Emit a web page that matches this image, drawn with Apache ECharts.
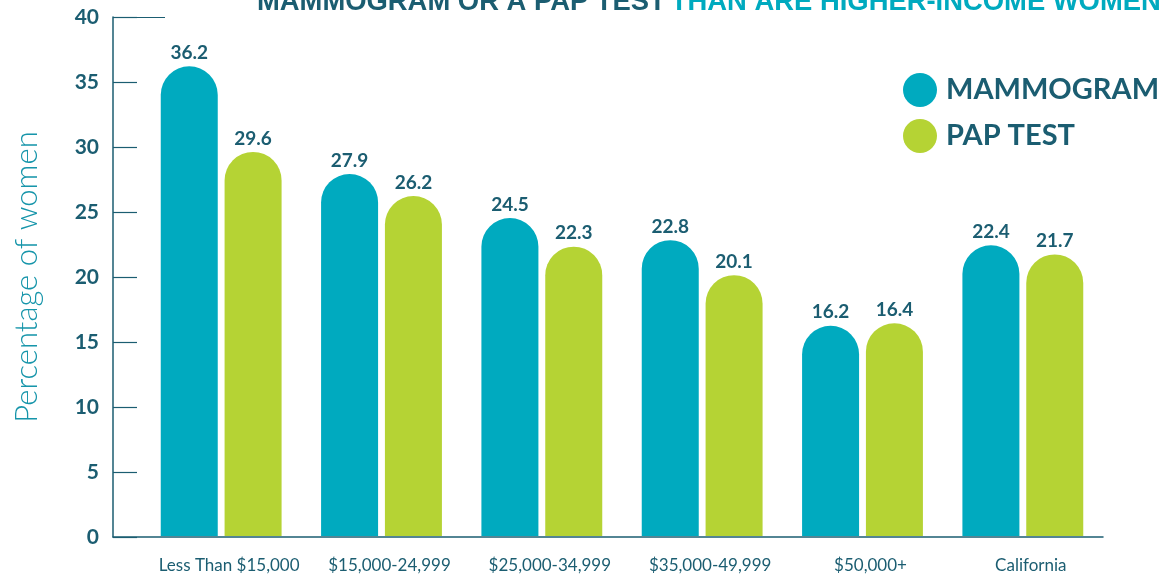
<!DOCTYPE html>
<html>
<head>
<meta charset="utf-8">
<script src="https://cdn.jsdelivr.net/npm/echarts@6/dist/echarts.min.js"></script>
<style>
html,body{margin:0;padding:0;background:#fff;}
#chart{width:1161px;height:574px;}
</style>
</head>
<body>
<div id="chart"></div>
<script>
const categories = ['Less Than $15,000', '$15,000-24,999', '$25,000-34,999', '$35,000-49,999', '$50,000+', 'California'];
const mammogram = [36.2, 27.9, 24.5, 22.8, 16.2, 22.4];
const papTest = [29.6, 26.2, 22.3, 20.1, 16.4, 21.7];
const seriesNames = ['MAMMOGRAM', 'PAP TEST'];
const yTicks = { min: 0, max: 40, interval: 5 };
const titleDark = 'MAMMOGRAM OR A PAP TEST';
const titleLight = 'THAN ARE HIGHER-INCOME WOMEN';
const yName = 'Percentage of women';

const dark = '#1b5d71';
const teal = '#00aabf';
const green = '#b5d334';
const font = 'Lato';

const chart = echarts.init(document.getElementById('chart'));
const labelCfg = {
  show: true, position: 'top', distance: 4,
  color: dark, fontSize: 19, fontWeight: 'bold', fontFamily: font,
  formatter: p => p.value.toFixed(1)
};
chart.setOption({
  animation: false,
  title: {
    left: 252, top: -16,
    text: '{a|' + titleDark + '} {b|' + titleLight + '}',
    textStyle: {
      rich: {
        a: { color: dark, fontSize: 27.4, fontWeight: 'bold', fontFamily: 'Liberation Sans' },
        b: { color: teal, fontSize: 27.4, fontWeight: 'bold', fontFamily: 'Liberation Sans' }
      }
    }
  },
  legend: {
    orient: 'vertical', left: 898, top: 68,
    itemWidth: 34, itemHeight: 34, itemGap: 12, icon: 'circle',
    data: seriesNames,
    textStyle: { color: dark, fontSize: 29, fontWeight: 'bold', fontFamily: font, padding: [0, 0, 0, 4] }
  },
  grid: [
    { left: 141, right: 58, top: 17, bottom: 37 },
    { left: 113, right: 58, top: 17, bottom: 37 }
  ],
  xAxis: [
    {
      type: 'category', gridIndex: 0, data: categories,
      axisLine: { show: false }, axisTick: { show: false },
      axisLabel: { color: dark, fontSize: 17, fontFamily: font, margin: 21, interval: 0, padding: [0, 0, 0, 16] }
    },
    {
      type: 'value', gridIndex: 1, min: 0, max: 1,
      axisLine: { show: true, lineStyle: { color: dark, width: 1.5 } },
      axisTick: { show: false }, axisLabel: { show: false }, splitLine: { show: false }
    }
  ],
  yAxis: [
    {
      type: 'value', gridIndex: 0, min: yTicks.min, max: yTicks.max, interval: yTicks.interval,
      show: false
    },
    {
      type: 'value', gridIndex: 1, min: yTicks.min, max: yTicks.max, interval: yTicks.interval,
      name: yName, nameLocation: 'middle', nameGap: 71, nameRotate: 90,
      nameTextStyle: { color: '#1695aa', fontSize: 31, fontWeight: 300, fontFamily: font },
      axisLine: { show: true, lineStyle: { color: dark, width: 1.5 } },
      axisTick: { show: true, inside: true, length: 24, lineStyle: { color: dark, width: 1.2 } },
      axisLabel: { color: dark, fontSize: 21, fontWeight: 'bold', fontFamily: font, margin: 14 },
      splitLine: { show: false }
    }
  ],
  graphic: [
    { type: 'line', shape: { x1: 113, y1: 17.5, x2: 165, y2: 17.5 }, style: { stroke: dark, lineWidth: 1.2 } }
  ],
  series: [
    {
      name: seriesNames[0], type: 'bar', xAxisIndex: 0, yAxisIndex: 0,
      data: mammogram, barWidth: 57, barGap: '12%',
      itemStyle: { color: teal, borderRadius: [28.5, 28.5, 0, 0] },
      label: labelCfg
    },
    {
      name: seriesNames[1], type: 'bar', xAxisIndex: 0, yAxisIndex: 0,
      data: papTest, barWidth: 57, barGap: '12%',
      itemStyle: { color: green, borderRadius: [28.5, 28.5, 0, 0] },
      label: labelCfg
    }
  ]
});
</script>
</body>
</html>
